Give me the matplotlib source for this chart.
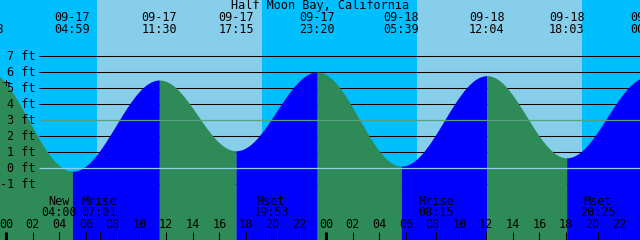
import matplotlib
matplotlib.use("Agg")
import matplotlib.pyplot as plt
import numpy as np
import pandas as pd

### DATA ###

station = "Half Moon Bay, California"
year = "2024-"  # only used to parse the times, never drawn

tide_times = ["09-16 22:28", "09-17 04:59", "09-17 11:30", "09-17 17:15", "09-17 23:20",
              "09-18 05:39", "09-18 12:04", "09-18 18:03", "09-19 00:08"]
tide_heights = [6.1, -0.2, 5.5, 1.08, 6.0, 0.12, 5.77, 0.64, 5.7]  # ft

sunrise_times = ["09-17 06:48", "09-18 06:49"]
sunset_times = ["09-17 19:11", "09-18 19:10"]

moon_names = ["New", "Mrise", "Mset", "Mrise", "Mset"]
moon_times = ["09-17 04:00", "09-17 07:01", "09-17 19:53", "09-18 08:15", "09-18 20:25"]

ft_levels = [-1, 0, 1, 2, 3, 4, 5, 6, 7]
mean_level = 3
datum_level = 0

### SETUPS ###

night_col = "#00BFFF"
day_col = "#87CEEB"
ebb_col = "#2E8B57"
flood_col = "#0000FF"
mean_col = "#55A282"
datum_col = "#8FD0EA"
font = dict(family="DejaVu Sans Mono", fontsize=8.5)

W, H = 640, 240
px_per_hour = 40 / 3.0   # 2 hours every 26.7 px
x0_px = 6               # where 09-17 00:00 sits
px_per_ft = 16
y0_px = 168             # where 0 ft sits

start = pd.Timestamp(year + "09-17 00:00")

def hours(times): # times -> hours since 09-17 00:00
    t = pd.to_datetime([year + s for s in times], format="%Y-%m-%d %H:%M")
    return np.asarray((t - start) / pd.Timedelta(hours=1), dtype=float)

def hx(px): # pixel column -> hours
    return (px - x0_px) / px_per_hour

def fy(py): # pixel row -> feet
    return (y0_px - py) / px_per_ft

tide_h = hours(tide_times)
rise_h = hours(sunrise_times)
set_h = hours(sunset_times)
moon_h = hours(moon_times)

xmin, xmax = hx(0), hx(W)
ymin, ymax = fy(H), fy(0)

### PLOT ###

fig = plt.figure(figsize=(6.4, 2.4), dpi=100)
ax = fig.add_axes([0, 0, 1, 1])
ax.set_xlim(xmin, xmax)
ax.set_ylim(ymin, ymax)
ax.axis("off")

# day / night background
edges = [xmin]
for r, s in zip(rise_h, set_h):
    edges += [r, s]
edges.append(xmax)
for i in range(len(edges) - 1):
    ax.axvspan(edges[i], edges[i + 1], color=night_col if i % 2 == 0 else day_col, lw=0, zorder=0)

# foot lines behind the water
line_start = hx(39)
ax.hlines([l for l in ft_levels if l not in (mean_level, datum_level)], line_start, xmax,
          color="black", lw=0.75, zorder=1)

# tide curve, shaded per half cycle
for i in range(len(tide_h) - 1):
    t = np.linspace(tide_h[i], tide_h[i + 1], 200)
    f = (1 - np.cos(np.pi * (t - tide_h[i]) / (tide_h[i + 1] - tide_h[i]))) / 2
    level = tide_heights[i] + (tide_heights[i + 1] - tide_heights[i]) * f
    rising = tide_heights[i + 1] > tide_heights[i]
    ax.fill_between(t, ymin, level, color=flood_col if rising else ebb_col, lw=0, zorder=2)

ax.hlines(mean_level, line_start, xmax, color=mean_col, lw=0.9, zorder=3)
ax.hlines(datum_level, line_start, xmax, color=datum_col, lw=0.9, zorder=3)

# foot labels
for l in ft_levels:
    ax.text(hx(35.5), l, f"{l} ft", ha="right", va="center", zorder=5, **font)
ax.text(hx(6.5), fy(84), "+", ha="center", va="center", zorder=5, **font)

# header
ax.text((xmin + xmax) / 2, fy(6), station, ha="center", va="center", **font)
for h, s in zip(tide_h, tide_times):
    day, clock = s.split(" ")
    if h > xmin:
        ax.text(h, fy(17.5), day, ha="center", va="center", **font)
    ax.text(h, fy(29.5), clock, ha="center", va="center", **font)

# moon events
for h, name, s in zip(moon_h, moon_names, moon_times):
    ax.text(h, fy(201.5), name, ha="center", va="center", **font)
    ax.text(h, fy(213), s.split(" ")[1], ha="center", va="center", **font)
ax.vlines(moon_h, fy(232), fy(240), color="black", lw=0.75, zorder=4)

# hour axis
tick_h = np.arange(0, 50, 2)
for h in tick_h:
    ax.text(h, fy(225), f"{int(h) % 24:02d}", ha="center", va="center", **font)
    ax.vlines(h, fy(232), fy(240), color="black", lw=2.2 if h % 24 == 0 else 0.75, zorder=4)

fig.savefig("out.png", dpi=100)
